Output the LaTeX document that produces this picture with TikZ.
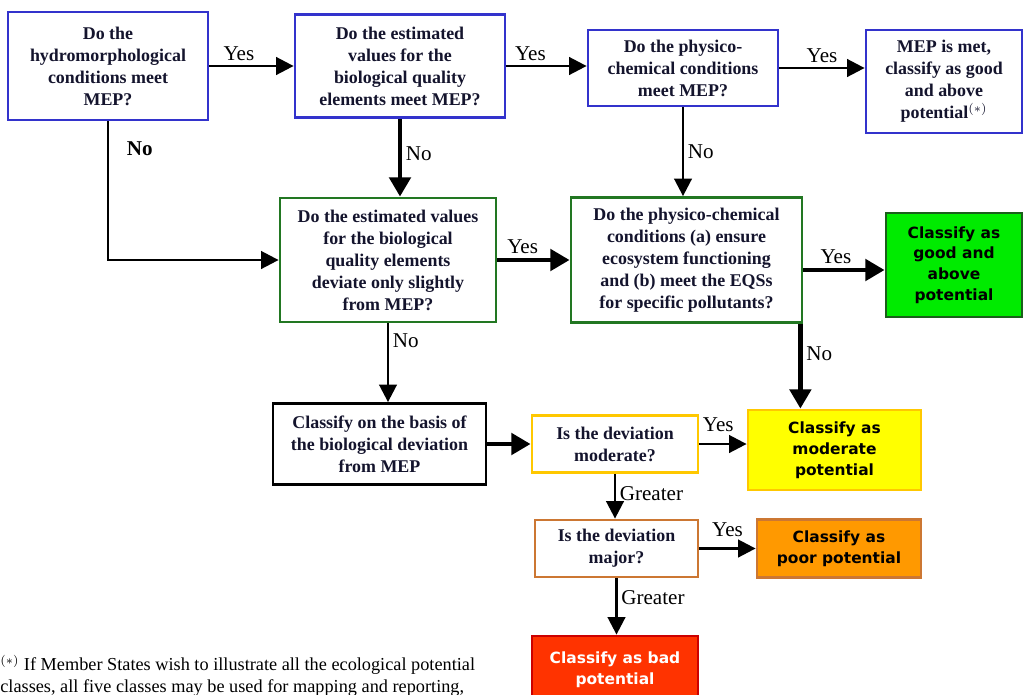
\documentclass[tikz,border=0pt]{standalone}
\usepackage{fontspec}
\setmainfont{Liberation Serif}
\newfontfamily\boxsans{DejaVu Sans}
\usepackage{xcolor}
\usetikzlibrary{arrows.meta, positioning}

\definecolor{qblue}{RGB}{51,51,204}
\definecolor{qgreen}{RGB}{34,119,34}
\definecolor{goodfill}{RGB}{0,235,0}
\definecolor{modfill}{RGB}{255,255,0}
\definecolor{modline}{RGB}{255,200,0}
\definecolor{poorfill}{RGB}{255,153,0}
\definecolor{poorline}{RGB}{204,119,51}
\definecolor{badfill}{RGB}{255,51,0}
\definecolor{badline}{RGB}{204,0,0}
\definecolor{inktext}{RGB}{20,20,45}

\begin{document}
\begin{tikzpicture}[
  x=0.02cm, y=-0.02cm,
  question/.style={rectangle, draw, line width=1.6pt, fill=white, align=center,
    text=inktext, font=\fontsize{10.2}{12.5}\selectfont\bfseries, inner sep=2pt},
  result/.style={rectangle, draw, line width=1.6pt, align=center,
    font=\boxsans\fontsize{8.8}{11.8}\selectfont\bfseries, inner sep=2pt},
  flow/.style={line width=1.5pt, -{Triangle[length=10pt,width=10pt]}},
  thickflow/.style={line width=2.8pt, -{Triangle[length=11pt,width=12pt]}},
  answer/.style={font=\fontsize{12}{14}\selectfont, inner sep=2pt}
]
\useasboundingbox (0,0) rectangle (1024,694);

% first row: blue questions
\node[question, draw=qblue, minimum width=4cm, minimum height=2.16cm] (hydro) at (108,66)
  {Do the\\hydromorphological\\conditions meet\\MEP?};
\node[question, draw=qblue, minimum width=4.2cm, minimum height=2.06cm] (bioq) at (400,66)
  {Do the estimated\\values for the\\biological quality\\elements meet MEP?};
\node[question, draw=qblue, minimum width=3.8cm, minimum height=1.52cm] (physq) at (683,68)
  {Do the physico-\\chemical conditions\\meet MEP?};
\node[question, draw=qblue, minimum width=3.12cm, minimum height=2.06cm] (mepmet) at (944,81.5)
  {MEP is met,\\classify as good\\and above\\potential$^{\scriptstyle(*)}$};

% second row: green questions
\node[question, draw=qgreen, minimum width=4.32cm, minimum height=2.48cm] (slight) at (388,260)
  {Do the estimated values\\for the biological\\quality elements\\deviate only slightly\\from MEP?};
\node[question, draw=qgreen, minimum width=4.62cm, minimum height=2.5cm] (ecosys) at (686.5,260)
  {Do the physico-chemical\\conditions (a) ensure\\ecosystem functioning\\and (b) meet the EQSs\\for specific pollutants?};
\node[result, draw=qgreen!80!black, fill=goodfill, minimum width=2.72cm, minimum height=2.08cm] (good) at (954,265)
  {Classify as\\good and\\above\\potential};

% lower part
\node[question, draw=black, minimum width=4.26cm, minimum height=1.62cm] (basis) at (379.5,444)
  {Classify on the basis of\\the biological deviation\\from MEP};
\node[question, draw=modline, minimum width=3.32cm, minimum height=1.14cm] (moder) at (615,444)
  {Is the deviation\\moderate?};
\node[result, draw=modline, fill=modfill, minimum width=3.46cm, minimum height=1.6cm] (modpot) at (834.5,450)
  {Classify as\\moderate\\potential};
\node[question, draw=poorline, minimum width=3.26cm, minimum height=1.14cm] (major) at (616.5,548.5)
  {Is the deviation\\major?};
\node[result, draw=poorline, fill=poorfill, minimum width=3.28cm, minimum height=1.16cm] (poorpot) at (839,548.5)
  {Classify as\\poor potential};
\node[result, draw=badline, fill=badfill, text=white, minimum width=3.32cm, minimum height=1.36cm] (badpot) at (615,670)
  {Classify as bad\\potential};

% footnote
\node[anchor=north west, align=left, inner sep=0pt, font=\fontsize{10.4}{12}\selectfont] (note) at (0,655)
  {$^{\scriptstyle(*)}$ If Member States wish to illustrate all the ecological potential\\classes, all five classes may be used for mapping and reporting,};

% connectors
\draw[flow] (hydro) -- node[answer, above, pos=0.35]{Yes} (bioq);
\draw[flow] (bioq) -- node[answer, above, pos=0.3]{Yes} (bioq -| physq.west);
\draw[flow] (physq) -- node[answer, above, pos=0.5]{Yes} (physq -| mepmet.west);
\draw[flow] (hydro.south) |- node[answer, right, pos=0.1, xshift=8pt]{\bfseries No} (slight.west);
\draw[thickflow] (bioq.south) -- node[answer, right, pos=0.45]{No} (bioq.south |- slight.north);
\draw[flow] (physq.south) -- node[answer, right, pos=0.5]{No} (physq.south |- ecosys.north);
\draw[thickflow] (slight) -- node[answer, above, pos=0.35]{Yes} (ecosys);
\draw[thickflow] (ecosys.east |- 0,270) -- node[answer, above, pos=0.4]{Yes} (good.west |- 0,270);
\draw[thickflow] ([xshift=-0.06cm]ecosys.south east) -- node[answer, right, pos=0.35]{No}
  ([xshift=-0.06cm]ecosys.south east |- modpot.north);
\draw[flow] (slight.south) -- node[answer, right, pos=0.22]{No} (slight.south |- basis.north);
\draw[thickflow] (basis) -- (moder);
\draw[flow] (moder.east) -- node[answer, above, pos=0.4, yshift=4pt]{Yes} (moder.east -| modpot.west);
\draw[flow] (moder.south) -- node[answer, right, pos=0.45]{Greater} (moder.south |- major.north);
\draw[flow] (major.east) -- node[answer, above, pos=0.5, yshift=4pt]{Yes} (major.east -| poorpot.west);
\draw[flow] (major.south) -- node[answer, right, pos=0.35]{Greater} (major.south |- badpot.north);

\end{tikzpicture}
\end{document}
